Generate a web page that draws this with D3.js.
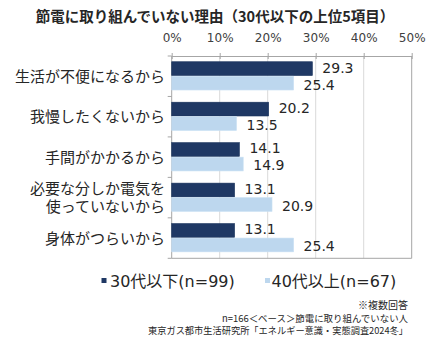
<!DOCTYPE html>
<html><head><meta charset="utf-8">
<script src="https://cdn.jsdelivr.net/npm/d3@7"></script>
<style>
body{margin:0;background:#fff;}
text{font-family:"DejaVu Sans","Noto Sans CJK JP",sans-serif;}
</style></head>
<body>
<svg id="chart" width="442" height="345"></svg>
<script>
const categories = [["生活が不便になるから"],["我慢したくないから"],["手間がかかるから"],["必要な分しか電気を","使っていないから"],["身体がつらいから"]];
const seriesNames = ["30代以下(n=99)","40代以上(n=67)"];
const under30 = [29.3,20.2,14.1,13.1,13.1];
const over40 = [25.4,13.5,14.9,20.9,25.4];
const xTicks = [0,10,20,30,40,50];
const title = "節電に取り組んでいない理由（30代以下の上位5項目）";
const notes = ["※複数回答","n=166＜ベース＞節電に取り組んでいない人","東京ガス都市生活研究所「エネルギー意識・実態調査2024冬」"];
const colors = ["#1f3864","#bdd7ee"];

(function(){
const svg = d3.select("#chart");
const pL = 171.7, pR = 411.7, pT = 56, pB = 258.3;
const x = d3.scaleLinear().domain([0,50]).range([pL,pR]);
const idx = d3.range(categories.length);
const y0 = d3.scaleBand().domain(idx).range([pT,pB]).paddingInner(0.284).paddingOuter(0.142);
const y1 = d3.scaleBand().domain([0,1]).range([0,y0.bandwidth()]).padding(0);

// title
svg.append("text").attr("x",215).attr("y",22).attr("text-anchor","middle")
  .style("font-family","'Noto Sans CJK JP',sans-serif")
  .attr("font-size",14.5).attr("font-weight","bold").attr("fill","#262626").text(title);

// gridlines
svg.append("g").selectAll("line").data(xTicks.slice(1,-1)).join("line")
  .attr("x1",d=>x(d)).attr("x2",d=>x(d)).attr("y1",pT).attr("y2",pB)
  .attr("stroke","#d9d9d9").attr("stroke-width",1);
svg.append("line").attr("x1",x(50)).attr("x2",x(50)).attr("y1",pT).attr("y2",pB).attr("stroke","#a6a6a6");
svg.append("line").attr("x1",pL).attr("x2",pR).attr("y1",pB).attr("y2",pB).attr("stroke","#a6a6a6");

// top axis
const xAxis = d3.axisTop(x).tickValues(xTicks).tickFormat(d=>d+"%").tickSize(0).tickPadding(0);
const gx = svg.append("g").attr("transform",`translate(0,${pT})`).call(xAxis);
gx.select(".domain").attr("stroke","#a6a6a6");
gx.selectAll(".tick text").attr("y",-14).attr("font-size",12).attr("fill","#404040").attr("font-family","'DejaVu Sans',sans-serif");
gx.selectAll(".tick").append("line").attr("y1",-3).attr("y2",3).attr("stroke","#a6a6a6");

// left axis
svg.append("line").attr("x1",pL).attr("x2",pL).attr("y1",pT).attr("y2",pB).attr("stroke","#a6a6a6");
const bounds = idx.map(i=>y0(i)-y0.step()*0.142).concat([pB]);
svg.append("g").selectAll("line").data(bounds).join("line")
  .attr("x1",pL-4).attr("x2",pL).attr("y1",d=>d).attr("y2",d=>d).attr("stroke","#a6a6a6");

// category labels
const cl = svg.append("g").selectAll("text").data(idx).join("text")
  .attr("text-anchor","end").attr("x",165)
  .attr("y",i=>y0(i)+y0.bandwidth()/2)
  .attr("font-size",15).attr("fill","#262626")
  .style("font-family","'Noto Sans CJK JP',sans-serif");
cl.each(function(i){
  const lines = categories[i];
  const t = d3.select(this);
  lines.forEach((s,k)=>{
    t.append("tspan").attr("x",165)
     .attr("dy", k===0 ? ((-(lines.length-1)*18.3/2)+5.5)+"px" : "18.3px")
     .text(s);
  });
});

// bars
const series = [under30, over40];
series.forEach((vals,s)=>{
  svg.append("g").selectAll("rect").data(idx).join("rect")
    .attr("x",x(0)).attr("y",i=>y0(i)+y1(s))
    .attr("width",i=>x(vals[i])-x(0)).attr("height",y1.bandwidth()-0.7)
    .attr("fill",colors[s])
    .attr("stroke", s===0 ? "#17305a" : "#c9e0f3").attr("stroke-width",0.6);
  svg.append("g").selectAll("text").data(idx).join("text")
    .attr("x",i=>x(vals[i])+10).attr("y",i=>y0(i)+y1(s)+y1.bandwidth()/2+(s===0?-1.5:1))
    .attr("dy","0.36em").attr("font-size",14).attr("fill","#262626")
    .text(i=>vals[i].toFixed(1));
});

// legend
const lg = [{sx:101.5,tx:110},{sx:265,tx:271.5}];
lg.forEach((p,s)=>{
  svg.append("rect").attr("x",p.sx).attr("y",278).attr("width",5).attr("height",5).attr("fill",colors[s]);
  svg.append("text").attr("x",p.tx).attr("y",281).attr("dy","0.36em").attr("font-size",16).attr("fill","#262626")
    .text(seriesNames[s]);
});

// notes
const ny = [305,318.3,330.7];
const nlen = [50,186,260];
notes.forEach((n,k)=>{
  svg.append("text").attr("x",408).attr("y",ny[k]).attr("dy","0.36em").attr("text-anchor","end")
    .attr("font-size",k===0?10:9.5).attr("fill","#262626")
    .attr("textLength",nlen[k]).attr("lengthAdjust","spacingAndGlyphs")
    .style("font-family","'Noto Sans CJK JP',sans-serif").text(n);
});
})();
</script>
</body></html>
